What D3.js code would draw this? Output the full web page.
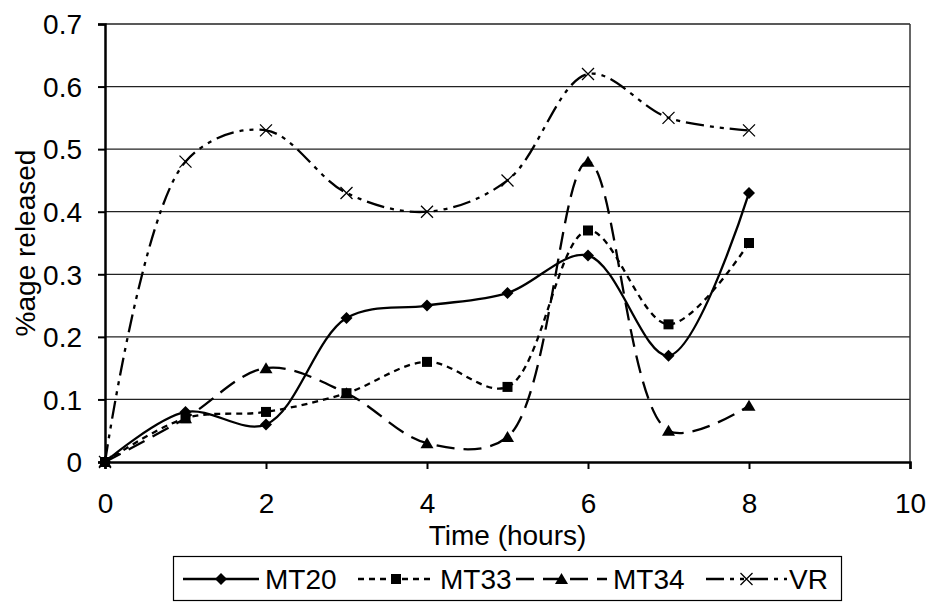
<!DOCTYPE html>
<html>
<head>
<meta charset="utf-8">
<script src="https://cdn.jsdelivr.net/npm/d3@7"></script>
<style>
  body { margin: 0; background: #fff; }
  svg { display: block; font-family: Arial, "Liberation Sans", sans-serif; }
</style>
</head>
<body>
<svg id="chart" width="931" height="604"></svg>
<script>
// data
const hours = [0, 1, 2, 3, 4, 5, 6, 7, 8];
const mt20 = [0, 0.08, 0.06, 0.23, 0.25, 0.27, 0.33, 0.17, 0.43];
const mt33 = [0, 0.07, 0.08, 0.11, 0.16, 0.12, 0.37, 0.22, 0.35];
const mt34 = [0, 0.07, 0.15, 0.11, 0.03, 0.04, 0.48, 0.05, 0.09];
const vr = [0, 0.48, 0.53, 0.43, 0.40, 0.45, 0.62, 0.55, 0.53];
const xTicks = [0, 2, 4, 6, 8, 10];
const yTicks = [0, 0.1, 0.2, 0.3, 0.4, 0.5, 0.6, 0.7];

const series = [
    {name: "MT20", values: mt20, dash: null, marker: "diamond"},
    {name: "MT33", values: mt33, dash: "6,5", marker: "square"},
    {name: "MT34", values: mt34, dash: "18,9", marker: "triangle"},
    {name: "VR", values: vr, dash: "18,6,4,6,4,6", marker: "cross"}
];

const svg = d3.select("#chart");
const margin = {left: 105, right: 21, top: 24, bottom: 142};
const W = 931, H = 604;
const fontSize = 28;

const x = d3.scaleLinear().domain([0, 10]).range([margin.left, W - margin.right]);
const y = d3.scaleLinear().domain([0, 0.7]).range([H - margin.bottom, margin.top]);

// gridlines
svg.append("g")
    .selectAll("line")
    .data(yTicks.slice(1))
    .join("line")
    .attr("x1", x(0))
    .attr("x2", x(10))
    .attr("y1", d => y(d))
    .attr("y2", d => y(d))
    .attr("stroke", "#222")
    .attr("stroke-width", 1.3);

// plot border (right side)
svg.append("line")
    .attr("x1", x(10)).attr("x2", x(10))
    .attr("y1", y(0.7)).attr("y2", y(0))
    .attr("stroke", "#333")
    .attr("stroke-width", 1.5);

// axes
const xAxis = svg.append("g")
    .attr("transform", `translate(0,${y(0)})`)
    .call(d3.axisBottom(x).tickValues(xTicks).tickSize(7).tickFormat(d3.format("d")));
const yAxis = svg.append("g")
    .attr("transform", `translate(${x(0)},0)`)
    .call(d3.axisLeft(y).tickValues(yTicks).tickSize(7).tickFormat(d => d === 0 ? "0" : d3.format(".1f")(d)));

[xAxis, yAxis].forEach(g => {
    g.select(".domain").attr("stroke", "#000").attr("stroke-width", 2.5);
    g.selectAll(".tick line").attr("stroke", "#000").attr("stroke-width", 2);
    g.selectAll(".tick text")
        .attr("fill", "#000")
        .attr("font-size", fontSize)
        .attr("font-family", "Arial, 'Liberation Sans', sans-serif");
});
xAxis.selectAll(".tick text").attr("y", 51).attr("dy", null);
yAxis.selectAll(".tick text").attr("x", -23).attr("dy", "0.35em");

// axis titles
svg.append("text")
    .attr("x", (x(0) + x(10)) / 2)
    .attr("y", 545)
    .attr("text-anchor", "middle")
    .attr("font-size", fontSize)
    .text("Time (hours)");
svg.append("text")
    .attr("transform", `translate(35,${(y(0) + y(0.7)) / 2}) rotate(-90)`)
    .attr("text-anchor", "middle")
    .attr("font-size", fontSize)
    .text("%age released");

// lines
const line = d3.line()
    .x((d, i) => x(hours[i]))
    .y(d => y(d))
    .curve(d3.curveCatmullRom.alpha(0.5));

const plot = svg.append("g");
series.forEach(s => {
    plot.append("path")
        .datum(s.values)
        .attr("d", line)
        .attr("fill", "none")
        .attr("stroke", "#000")
        .attr("stroke-width", 2.3)
        .attr("stroke-dasharray", s.dash);
});

function drawMarker(g, type, cx, cy) {
    if (type === "diamond") {
        g.append("path")
            .attr("d", `M${cx},${cy - 6}L${cx + 6},${cy}L${cx},${cy + 6}L${cx - 6},${cy}Z`)
            .attr("fill", "#000");
    } else if (type === "square") {
        g.append("rect")
            .attr("x", cx - 5).attr("y", cy - 5)
            .attr("width", 10).attr("height", 10)
            .attr("fill", "#000");
    } else if (type === "triangle") {
        g.append("path")
            .attr("d", `M${cx},${cy - 6}L${cx + 6.5},${cy + 5}L${cx - 6.5},${cy + 5}Z`)
            .attr("fill", "#000");
    } else {
        g.append("path")
            .attr("d", `M${cx - 6},${cy - 6}L${cx + 6},${cy + 6}M${cx - 6},${cy + 6}L${cx + 6},${cy - 6}`)
            .attr("stroke", "#000")
            .attr("stroke-width", 1.3);
    }
}

series.forEach(s => {
    const g = plot.append("g");
    s.values.forEach((v, i) => drawMarker(g, s.marker, x(hours[i]), y(v)));
});

// legend
const legend = svg.append("g");
legend.append("rect")
    .attr("x", 173.5).attr("y", 556.5)
    .attr("width", 668).attr("height", 44)
    .attr("fill", "#fff")
    .attr("stroke", "#000")
    .attr("stroke-width", 1.2);

const legendItems = [
    {x1: 183, x2: 259, tx: 265},
    {x1: 358, x2: 434, tx: 440},
    {x1: 516, x2: 607, tx: 613},
    {x1: 706, x2: 787, tx: 789}
];
const ly = 579;
series.forEach((s, i) => {
    const it = legendItems[i];
    legend.append("line")
        .attr("x1", it.x1).attr("x2", it.x2)
        .attr("y1", ly).attr("y2", ly)
        .attr("stroke", "#000")
        .attr("stroke-width", 2.3)
        .attr("stroke-dasharray", s.dash);
    drawMarker(legend, s.marker, (it.x1 + it.x2) / 2, ly);
    legend.append("text")
        .attr("x", it.tx)
        .attr("y", 589)
        .attr("font-size", fontSize)
        .text(s.name);
});
</script>
</body>
</html>
